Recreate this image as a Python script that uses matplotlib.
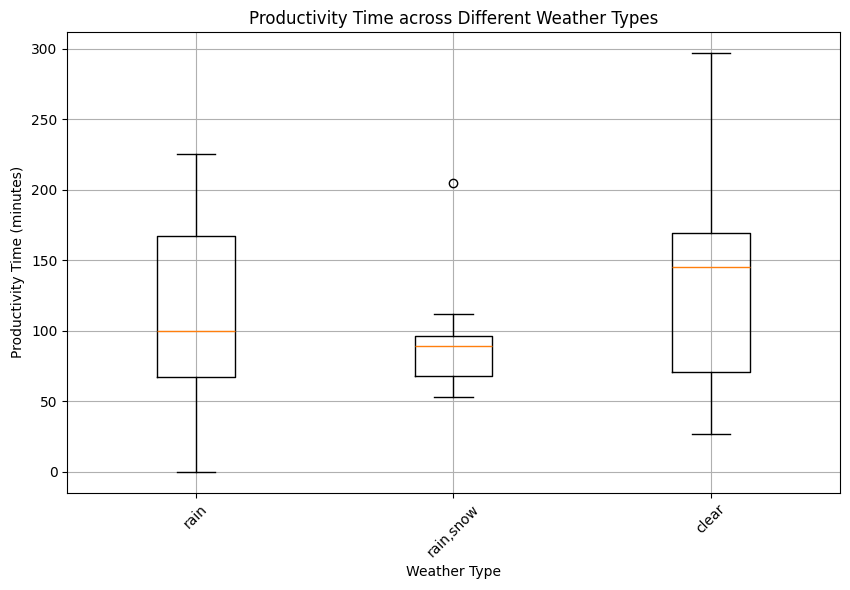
import matplotlib
matplotlib.use("Agg")
import matplotlib.pyplot as plt

categories = ["rain", "rain,snow", "clear"]
whislo = [0, 53, 27]
q1 = [67, 68, 71]
med = [100, 89, 145]
q3 = [167, 96, 169]
whishi = [225, 112, 297]
fliers = [[], [205], []]

stats = [dict(label=c, whislo=a, q1=b, med=m, q3=d, whishi=e, fliers=f)
         for c, a, b, m, d, e, f in zip(categories, whislo, q1, med, q3, whishi, fliers)]

fig, ax = plt.subplots(figsize=(8.5, 5.9), dpi=100)
ax.bxp(stats)
ax.set_title("Productivity Time across Different Weather Types")
ax.set_xlabel("Weather Type")
ax.set_ylabel("Productivity Time (minutes)")
plt.setp(ax.get_xticklabels(), rotation=45)
ax.grid(True)
fig.subplots_adjust(left=0.079, right=0.988, top=0.946, bottom=0.165)
fig.savefig("out.png")
